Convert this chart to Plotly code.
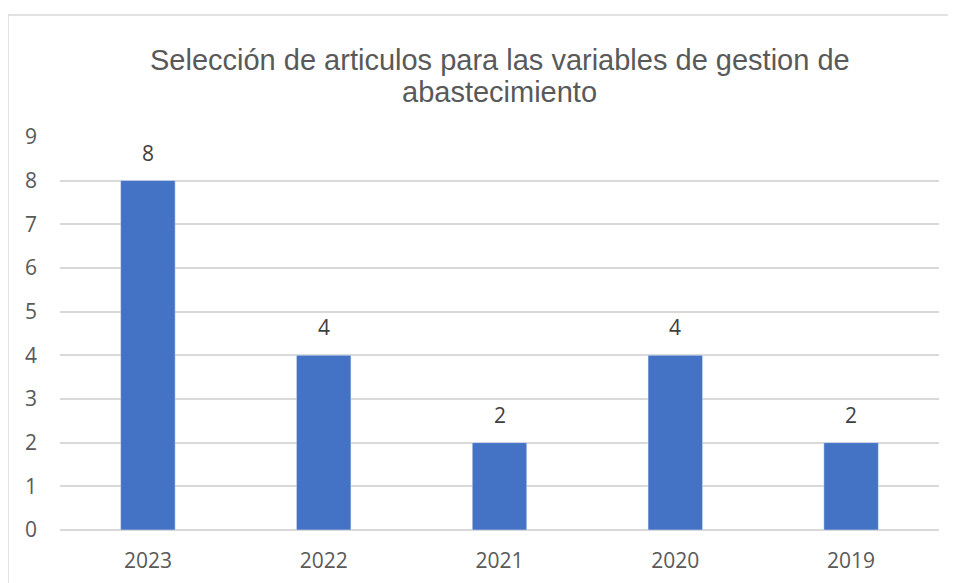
import plotly.graph_objects as go

# Datos
years = ["2023", "2022", "2021", "2020", "2019"]
articles = [8, 4, 2, 4, 2]
y_ticks = [0, 1, 2, 3, 4, 5, 6, 7, 8, 9]

title_lines = ["Selección de articulos para las variables de gestion de", "abastecimiento"]

fig = go.Figure(
    go.Bar(
        x=years,
        y=articles,
        marker_color="#4472C4",
        width=0.31,
        hoverinfo="x+y",
    )
)

# Etiquetas de datos sobre las barras (x como índice de categoría)
for i, val in enumerate(articles):
    fig.add_annotation(
        x=i, y=val, text=str(val),
        showarrow=False, yanchor="bottom", yshift=12,
        font=dict(family="Open Sans", size=21, color="#404040"),
    )

# Título en dos líneas (interlineado más compacto que el de plotly)
for line, ypos in zip(title_lines, [1.193, 1.112]):
    fig.add_annotation(
        text=line, xref="paper", yref="paper",
        x=0.5, y=ypos, xanchor="center", yanchor="middle",
        showarrow=False,
        font=dict(family="Liberation Sans", size=29, color="#595959"),
    )

# Borde del gráfico
fig.add_shape(
    type="rect", xref="paper", yref="paper",
    x0=-0.0592, x1=1.04, y0=-0.3, y1=1.307,
    line=dict(color="#D9D9D9", width=1.5), layer="below",
)

fig.update_layout(
    width=948,
    height=575,
    margin=dict(l=52, r=17, t=128, b=53),
    paper_bgcolor="white",
    plot_bgcolor="white",
    showlegend=False,
    xaxis=dict(
        type="category",
        range=[-0.5, 4.5],
        automargin=False,
        showgrid=False,
        showline=False,
        ticks="",
        ticklabelstandoff=16,
        tickfont=dict(family="Open Sans", size=21, color="#595959"),
    ),
    yaxis=dict(
        range=[0, 9.02],
        tickvals=y_ticks,
        automargin=False,
        showgrid=True,
        gridcolor="#D9D9D9",
        gridwidth=1.5,
        zeroline=True,
        zerolinecolor="#D9D9D9",
        zerolinewidth=1.5,
        showline=False,
        ticks="",
        ticklabelstandoff=22,
        tickfont=dict(family="Open Sans", size=21, color="#595959"),
    ),
)

fig.write_html("out.html")
